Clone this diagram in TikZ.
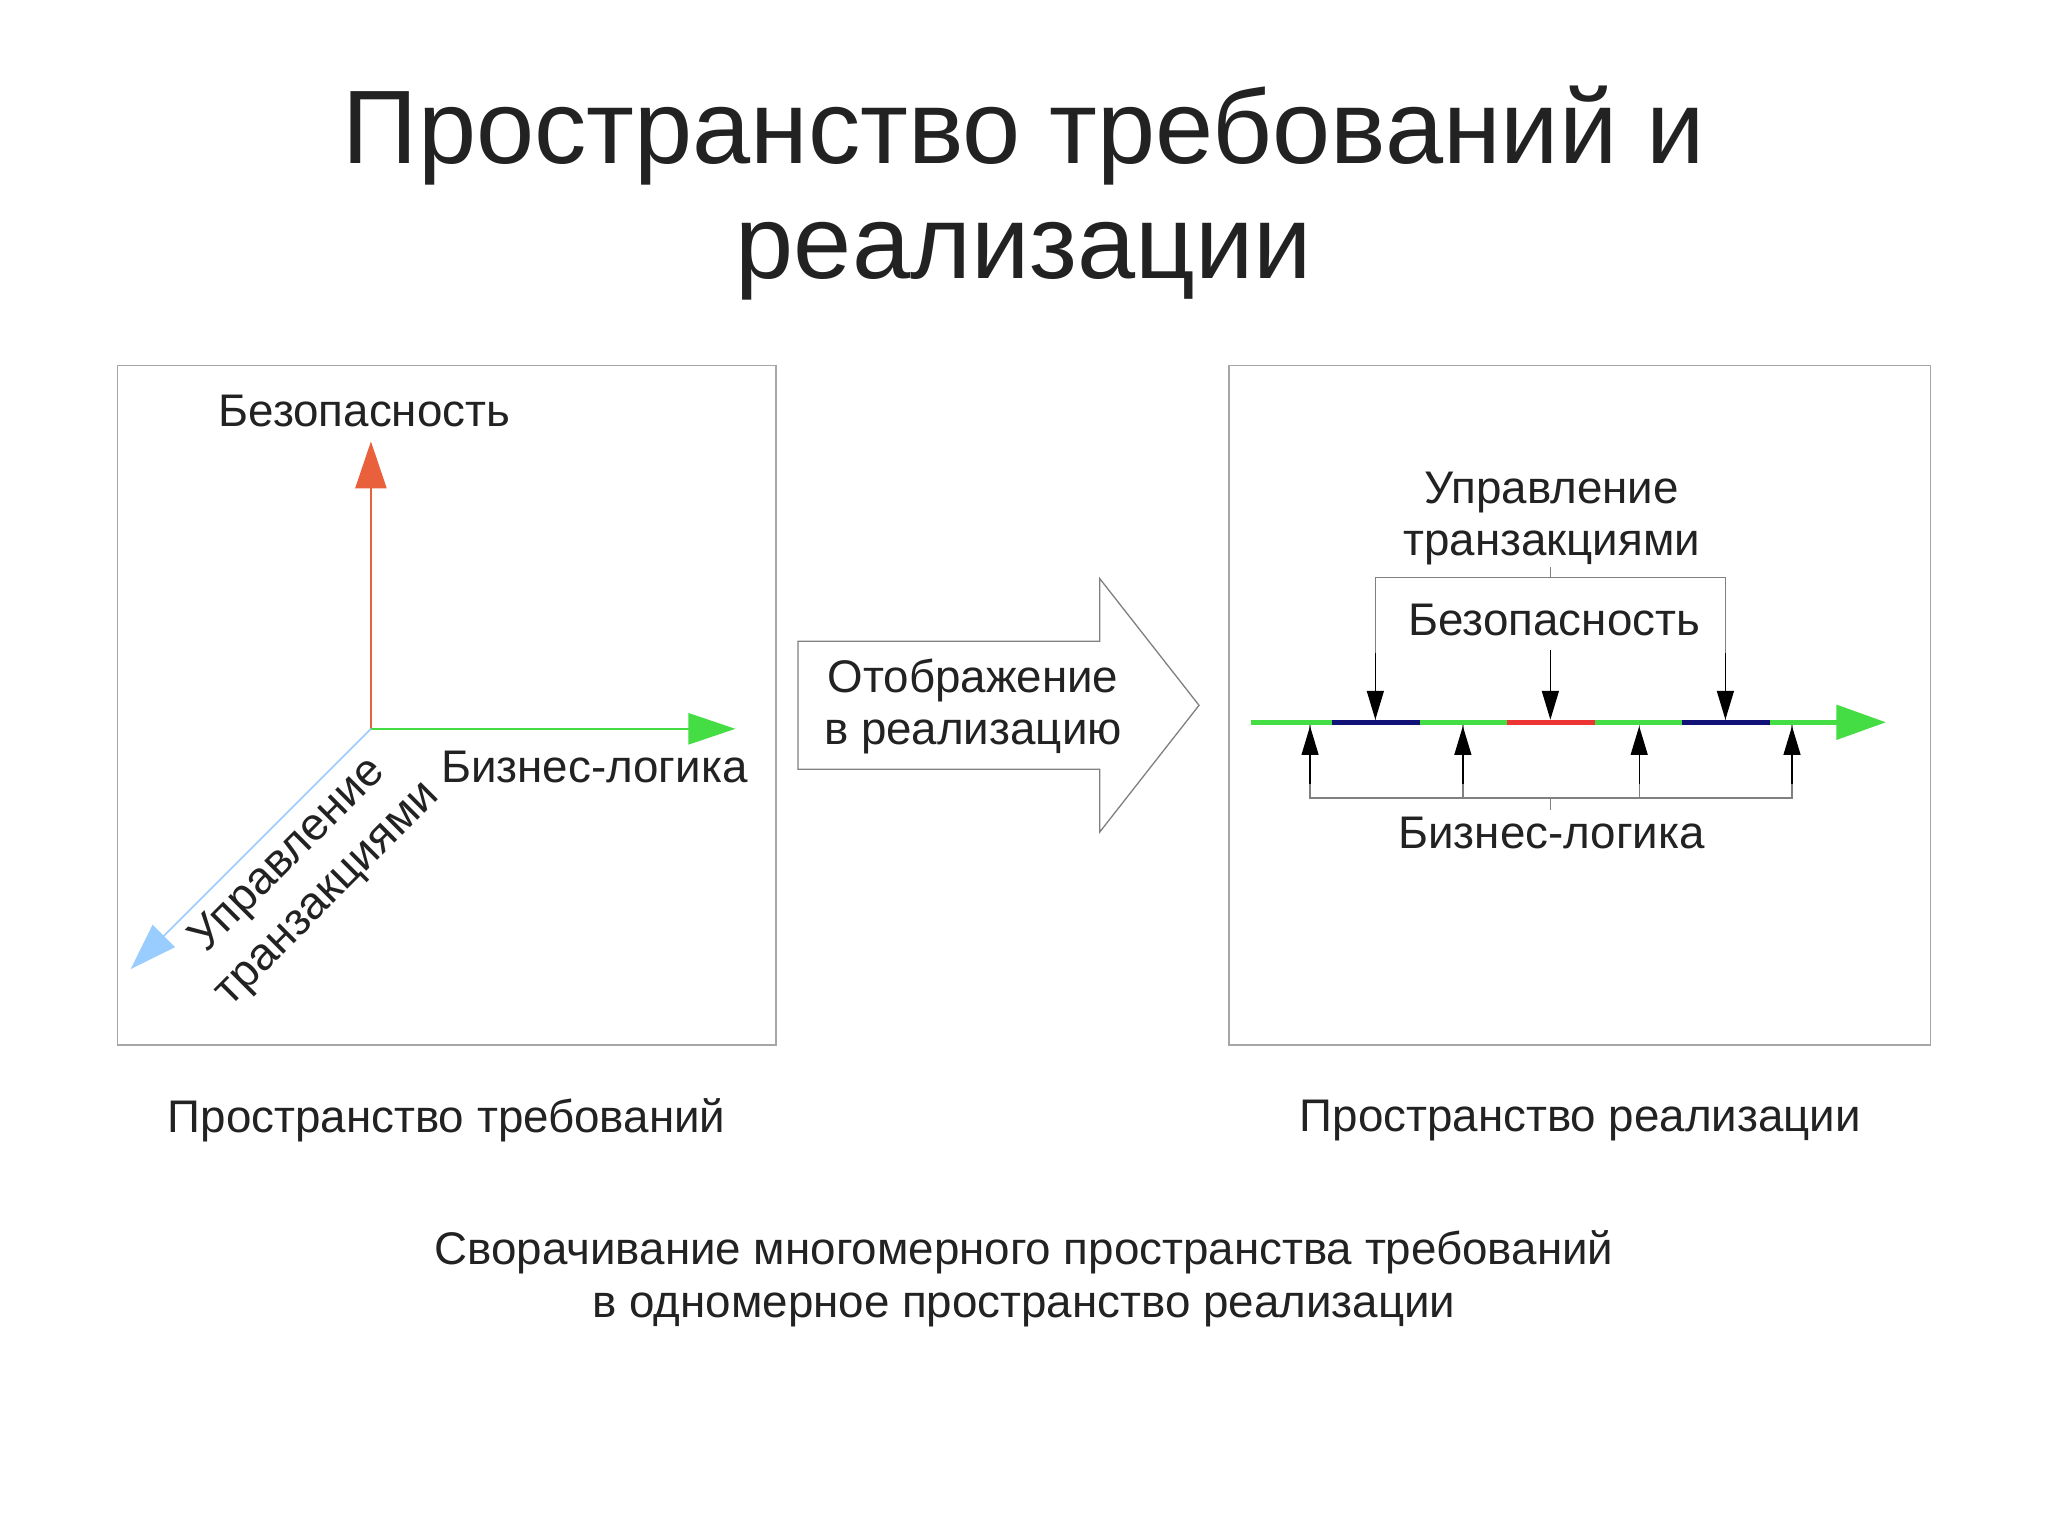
\documentclass[tikz,border=0pt]{standalone}
\usepackage{fontspec}
\setmainfont{Liberation Sans}
\usetikzlibrary{arrows.meta}
\definecolor{tcol}{HTML}{222222}
\definecolor{gr}{HTML}{44DD44}
\definecolor{rd}{HTML}{E8603C}
\definecolor{bl}{HTML}{99CCFF}
\definecolor{nv}{HTML}{111177}
\definecolor{rr}{HTML}{EE3333}
\tikzset{
 frame/.style={draw=gray!70,line width=1pt},
 lbl/.style={text=tcol,font=\fontsize{35}{40}\selectfont,align=center},
 brk/.style={draw=gray,line width=1pt},
 barr/.style={line width=1pt,-{Triangle[length=22pt,width=13pt]}}
}
\begin{document}
\begin{tikzpicture}[x=1pt,y=-1pt]
\useasboundingbox[fill=white] (0,0) rectangle (1568,1175);
\node[text=tcol,font=\fontsize{80}{88}\selectfont,align=center] (title) at (784,148) {Пространство требований и\\реализации};
% left
\node[frame,minimum width=504pt,minimum height=520pt,inner sep=0] (lbox) at (342,540) {};
\coordinate (o) at (284,558);
\coordinate (up) at (284,338);
\coordinate (rt) at (563,558);
\coordinate (dl) at (100,742);
\draw[rd,line width=1.2pt,-{Triangle[length=36pt,width=24pt]}] (o) -- (up);
\draw[gr,line width=1.2pt,-{Triangle[length=36pt,width=24pt]}] (o) -- (rt);
\draw[bl,line width=1.2pt,-{Triangle[length=36pt,width=24pt]}] (o) -- (dl);
\node[lbl] (bez1) at (279,315) {Безопасность};
\node[lbl] (biz1) at (455,587) {Бизнес-логика};
\node[lbl,rotate=45,align=center] (upr1) at (236,670) {Управление\\[2pt]транзакциями};
% middle arrow
\draw[line width=1pt,draw=gray] (611,491) -- (842,491) -- (842,443) -- (918,540) -- (842,637) -- (842,589) -- (611,589) -- cycle;
\node[lbl] (map) at (745,541) {Отображение\\в реализацию};
% right
\node[frame,minimum width=537pt,minimum height=520pt,inner sep=0] (rbox) at (1209.5,540) {};
\coordinate (s0) at (958,553);
\coordinate (s1) at (1020,553);
\coordinate (s2) at (1087,553);
\coordinate (s3) at (1154,553);
\coordinate (s4) at (1221,553);
\coordinate (s5) at (1288,553);
\coordinate (s6) at (1355,553);
\coordinate (s7) at (1444,553);
\draw[gr,line width=4pt] (s0)--(s1);
\draw[nv,line width=4pt] (s1)--(s2);
\draw[gr,line width=4pt] (s2)--(s3);
\draw[rr,line width=4pt] (s3)--(s4);
\draw[gr,line width=4pt] (s4)--(s5);
\draw[nv,line width=4pt] (s5)--(s6);
\draw[gr,line width=4pt,-{Triangle[length=38pt,width=26pt]}] (s6)--(s7);
% top bracket
\coordinate (t1) at (1053,442);
\coordinate (t2) at (1321,442);
\coordinate (tm) at (1187,442);
\draw[brk] (1053,551) -- (t1) -- (t2) -- (1321,551);
\draw[brk] (tm) -- (1187,434);
\draw[barr] (1053,500) -- (1053,551);
\draw[barr] (1321,500) -- (1321,551);
\draw[barr] (1187,498) -- (1187,551);
\node[lbl] (upr2) at (1188,397) {Управление\\транзакциями};
\node[lbl] (bez2) at (1190,475) {Безопасность};
% bottom bracket
\draw[brk] (1003,555) -- (1003,611) -- (1372,611) -- (1372,555);
\draw[brk] (1120,555) -- (1120,611);
\draw[brk] (1255,555) -- (1255,611);
\draw[brk] (1187,611) -- (1187,620);
\foreach \x in {1003,1120,1255,1372} \draw[barr] (\x,600) -- (\x,556);
\node[lbl] (biz2) at (1188,638) {Бизнес-логика};
% captions
\node[lbl] (c1) at (342,858) {Пространство требований};
\node[lbl] (c2) at (1210,858) {Пространство реализации};
\node[lbl,font=\fontsize{35}{40}\selectfont] (c3) at (784,979) {Сворачивание многомерного пространства требований\\в одномерное пространство реализации};
\end{tikzpicture}
\end{document}
